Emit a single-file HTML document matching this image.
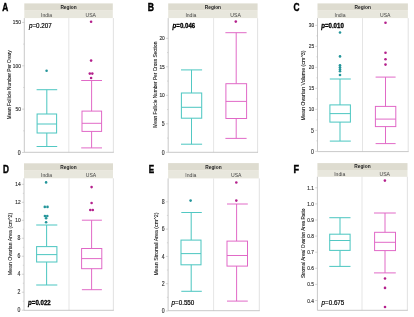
<!DOCTYPE html>
<html><head><meta charset="utf-8"><title>Box plots</title>
<style>
html,body{margin:0;padding:0;background:#fff;}
body{width:414px;height:317px;overflow:hidden;}
svg{display:block;will-change:transform;}
text{font-family:"Liberation Sans",sans-serif;}
.L{font-weight:bold;fill:#000;stroke:#000;stroke-width:0.42px;}
.R{font-size:4.8px;font-weight:bold;fill:#222;text-anchor:middle;}
.G{font-size:5.1px;fill:#444;text-anchor:middle;}
.T{font-size:5.6px;fill:#333333;stroke:#333333;stroke-width:0.15px;}
.T1{font-size:6.3px;fill:#333333;stroke:#333333;stroke-width:0.15px;}
.Y{fill:#1a1a1a;stroke:#1a1a1a;stroke-width:0.1px;text-anchor:middle;}
.P{font-size:7.1px;fill:#000;stroke:#000;stroke-width:0.2px;}
.PB{font-size:6.8px;fill:#000;font-weight:bold;stroke:#000;stroke-width:0.3px;}
</style></head>
<body>
<svg width="414" height="317" viewBox="0 0 414 317">
<rect width="414" height="317" fill="#fff"/>
<text transform="translate(2.3,10.9) scale(0.81,1)" class="L" font-size="10.3">A</text>
<rect x="24.3" y="3.4" width="88.50" height="7.20" fill="#dedcd0"/>
<rect x="24.3" y="10.6" width="88.50" height="7.50" fill="#e8e7dd"/>
<text x="68.55" y="9.00" class="R">Region</text>
<text x="46.55" y="17.10" class="G">India</text>
<text x="90.80" y="17.10" class="G">USA</text>
<line x1="68.8" y1="18.1" x2="68.8" y2="152.3" stroke="#dedede" stroke-width="0.8"/>
<line x1="113.40" y1="18.1" x2="113.40" y2="152.3" stroke="#dedede" stroke-width="0.9"/>
<line x1="24.3" y1="18.1" x2="24.3" y2="152.3" stroke="#bababa" stroke-width="0.8"/>
<line x1="24.3" y1="152.3" x2="113.80" y2="152.3" stroke="#bababa" stroke-width="0.8"/>
<line x1="22.10" y1="152.50" x2="24.3" y2="152.50" stroke="#bababa" stroke-width="0.6"/>
<text transform="translate(20.70,154.70) scale(0.82,1)" class="T1" text-anchor="end">0</text>
<line x1="22.10" y1="109.15" x2="24.3" y2="109.15" stroke="#bababa" stroke-width="0.6"/>
<text transform="translate(20.90,111.15) scale(0.86,1)" class="T" text-anchor="end">50</text>
<line x1="22.10" y1="65.80" x2="24.3" y2="65.80" stroke="#bababa" stroke-width="0.6"/>
<text transform="translate(20.90,67.80) scale(0.86,1)" class="T" text-anchor="end">100</text>
<line x1="22.10" y1="22.45" x2="24.3" y2="22.45" stroke="#bababa" stroke-width="0.6"/>
<text transform="translate(20.90,24.45) scale(0.86,1)" class="T" text-anchor="end">150</text>
<line x1="23.10" y1="130.82" x2="24.3" y2="130.82" stroke="#bababa" stroke-width="0.5"/>
<line x1="23.10" y1="87.47" x2="24.3" y2="87.47" stroke="#bababa" stroke-width="0.5"/>
<line x1="23.10" y1="44.12" x2="24.3" y2="44.12" stroke="#bababa" stroke-width="0.5"/>
<text transform="translate(10.55,84.75) rotate(-90)" class="Y" font-size="4.75" textLength="69" lengthAdjust="spacingAndGlyphs">Mean Follicle Number Per Ovary</text>
<text transform="translate(28.9,27.9) scale(0.885,1)" class="P"><tspan font-style="italic">p</tspan>=0.207</text>
<g stroke="#52c8c3" stroke-width="1.05"><line x1="46.8" y1="89.7" x2="46.8" y2="114"/><line x1="46.8" y1="133" x2="46.8" y2="146.5"/><line x1="36.6" y1="89.7" x2="57.2" y2="89.7"/><line x1="36.6" y1="146.5" x2="57.2" y2="146.5"/><rect x="37.1" y="114" width="19.50" height="19.00" fill="none"/><line x1="37.1" y1="124" x2="56.6" y2="124"/></g>
<circle cx="46.6" cy="70.8" r="1.3" fill="#23959a"/>
<g stroke="#e066c6" stroke-width="0.98"><line x1="91.6" y1="80.5" x2="91.6" y2="111.1"/><line x1="91.6" y1="131.4" x2="91.6" y2="147.9"/><line x1="81.2" y1="80.5" x2="102.0" y2="80.5"/><line x1="81.2" y1="147.9" x2="102.0" y2="147.9"/><rect x="82.0" y="111.1" width="19.60" height="20.30" fill="none"/><line x1="82.0" y1="123.3" x2="101.6" y2="123.3"/></g>
<circle cx="91.1" cy="21.7" r="1.3" fill="#b4208c"/>
<circle cx="91.1" cy="60.6" r="1.3" fill="#b4208c"/>
<circle cx="89.8" cy="73.6" r="1.3" fill="#b4208c"/>
<circle cx="92.3" cy="73.6" r="1.3" fill="#b4208c"/>
<circle cx="91.1" cy="78.0" r="1.3" fill="#b4208c"/>
<text transform="translate(147.7,10.9) scale(0.84,1)" class="L" font-size="10.3">B</text>
<rect x="168.2" y="3.4" width="89.40" height="7.20" fill="#dedcd0"/>
<rect x="168.2" y="10.6" width="89.40" height="7.50" fill="#e8e7dd"/>
<text x="212.90" y="9.00" class="R">Region</text>
<text x="190.90" y="17.10" class="G">India</text>
<text x="235.60" y="17.10" class="G">USA</text>
<line x1="213.6" y1="18.1" x2="213.6" y2="152.3" stroke="#dedede" stroke-width="0.8"/>
<line x1="257.60" y1="18.1" x2="257.60" y2="152.3" stroke="#dedede" stroke-width="0.9"/>
<line x1="168.2" y1="18.1" x2="168.2" y2="152.3" stroke="#bababa" stroke-width="0.8"/>
<line x1="168.2" y1="152.3" x2="258.00" y2="152.3" stroke="#bababa" stroke-width="0.8"/>
<line x1="166.00" y1="152.30" x2="168.2" y2="152.30" stroke="#bababa" stroke-width="0.6"/>
<text transform="translate(164.60,154.50) scale(0.82,1)" class="T1" text-anchor="end">0</text>
<line x1="166.00" y1="123.80" x2="168.2" y2="123.80" stroke="#bababa" stroke-width="0.6"/>
<text transform="translate(164.60,126.00) scale(0.82,1)" class="T1" text-anchor="end">5</text>
<line x1="166.00" y1="95.30" x2="168.2" y2="95.30" stroke="#bababa" stroke-width="0.6"/>
<text transform="translate(164.80,97.30) scale(0.86,1)" class="T" text-anchor="end">10</text>
<line x1="166.00" y1="66.80" x2="168.2" y2="66.80" stroke="#bababa" stroke-width="0.6"/>
<text transform="translate(164.80,68.80) scale(0.86,1)" class="T" text-anchor="end">15</text>
<line x1="166.00" y1="38.30" x2="168.2" y2="38.30" stroke="#bababa" stroke-width="0.6"/>
<text transform="translate(164.80,40.30) scale(0.86,1)" class="T" text-anchor="end">20</text>
<line x1="167.00" y1="138.05" x2="168.2" y2="138.05" stroke="#bababa" stroke-width="0.5"/>
<line x1="167.00" y1="109.55" x2="168.2" y2="109.55" stroke="#bababa" stroke-width="0.5"/>
<line x1="167.00" y1="81.05" x2="168.2" y2="81.05" stroke="#bababa" stroke-width="0.5"/>
<line x1="167.00" y1="52.55" x2="168.2" y2="52.55" stroke="#bababa" stroke-width="0.5"/>
<text transform="translate(157.10,84.70) rotate(-90)" class="Y" font-size="4.75" textLength="86" lengthAdjust="spacingAndGlyphs">Mean Follicle Number Per Cross Section</text>
<text transform="translate(172.6,28.1) scale(0.9,1)" class="PB"><tspan font-style="italic">p</tspan>=0.046</text>
<g stroke="#52c8c3" stroke-width="1.05"><line x1="191.5" y1="69.9" x2="191.5" y2="93.0"/><line x1="191.5" y1="118.2" x2="191.5" y2="144.2"/><line x1="181.0" y1="69.9" x2="202.1" y2="69.9"/><line x1="181.0" y1="144.2" x2="202.1" y2="144.2"/><rect x="181.4" y="93.0" width="20.30" height="25.20" fill="none"/><line x1="181.4" y1="107.3" x2="201.7" y2="107.3"/></g>
<g stroke="#e066c6" stroke-width="0.98"><line x1="236.2" y1="32.7" x2="236.2" y2="83.7"/><line x1="236.2" y1="118.5" x2="236.2" y2="138.4"/><line x1="225.4" y1="32.7" x2="246.6" y2="32.7"/><line x1="225.4" y1="138.4" x2="246.6" y2="138.4"/><rect x="225.9" y="83.7" width="20.70" height="34.80" fill="none"/><line x1="225.9" y1="101.4" x2="246.6" y2="101.4"/></g>
<circle cx="235.8" cy="21.6" r="1.3" fill="#b4208c"/>
<text transform="translate(293.5,10.6) scale(0.8,1)" class="L" font-size="10.4">C</text>
<rect x="317.5" y="3.4" width="90.40" height="7.20" fill="#dedcd0"/>
<rect x="317.5" y="10.6" width="90.40" height="7.50" fill="#e8e7dd"/>
<text x="362.70" y="9.00" class="R">Region</text>
<text x="340.00" y="17.10" class="G">India</text>
<text x="385.20" y="17.10" class="G">USA</text>
<line x1="362.5" y1="18.1" x2="362.5" y2="151.6" stroke="#dedede" stroke-width="0.8"/>
<line x1="408.20" y1="18.1" x2="408.20" y2="151.6" stroke="#dedede" stroke-width="0.9"/>
<line x1="317.5" y1="18.1" x2="317.5" y2="151.6" stroke="#bababa" stroke-width="0.8"/>
<line x1="317.5" y1="151.6" x2="408.60" y2="151.6" stroke="#bababa" stroke-width="0.8"/>
<line x1="315.30" y1="151.35" x2="317.5" y2="151.35" stroke="#bababa" stroke-width="0.6"/>
<text transform="translate(313.90,153.55) scale(0.82,1)" class="T1" text-anchor="end">0</text>
<line x1="315.30" y1="130.35" x2="317.5" y2="130.35" stroke="#bababa" stroke-width="0.6"/>
<text transform="translate(313.90,132.55) scale(0.82,1)" class="T1" text-anchor="end">5</text>
<line x1="315.30" y1="109.35" x2="317.5" y2="109.35" stroke="#bababa" stroke-width="0.6"/>
<text transform="translate(314.10,111.35) scale(0.86,1)" class="T" text-anchor="end">10</text>
<line x1="315.30" y1="88.35" x2="317.5" y2="88.35" stroke="#bababa" stroke-width="0.6"/>
<text transform="translate(314.10,90.35) scale(0.86,1)" class="T" text-anchor="end">15</text>
<line x1="315.30" y1="67.35" x2="317.5" y2="67.35" stroke="#bababa" stroke-width="0.6"/>
<text transform="translate(314.10,69.35) scale(0.86,1)" class="T" text-anchor="end">20</text>
<line x1="315.30" y1="46.35" x2="317.5" y2="46.35" stroke="#bababa" stroke-width="0.6"/>
<text transform="translate(314.10,48.35) scale(0.86,1)" class="T" text-anchor="end">25</text>
<line x1="315.30" y1="25.35" x2="317.5" y2="25.35" stroke="#bababa" stroke-width="0.6"/>
<text transform="translate(314.10,27.35) scale(0.86,1)" class="T" text-anchor="end">30</text>
<line x1="316.30" y1="140.85" x2="317.5" y2="140.85" stroke="#bababa" stroke-width="0.5"/>
<line x1="316.30" y1="119.85" x2="317.5" y2="119.85" stroke="#bababa" stroke-width="0.5"/>
<line x1="316.30" y1="98.85" x2="317.5" y2="98.85" stroke="#bababa" stroke-width="0.5"/>
<line x1="316.30" y1="77.85" x2="317.5" y2="77.85" stroke="#bababa" stroke-width="0.5"/>
<line x1="316.30" y1="56.85" x2="317.5" y2="56.85" stroke="#bababa" stroke-width="0.5"/>
<line x1="316.30" y1="35.85" x2="317.5" y2="35.85" stroke="#bababa" stroke-width="0.5"/>
<text transform="translate(304.80,85.40) rotate(-90)" class="Y" font-size="4.9" textLength="70" lengthAdjust="spacingAndGlyphs">Mean Ovarian Volume (cm^3)</text>
<text transform="translate(321.2,28.1) scale(0.9,1)" class="PB"><tspan font-style="italic">p</tspan>=0.010</text>
<g stroke="#52c8c3" stroke-width="1.05"><line x1="340.0" y1="79.0" x2="340.0" y2="104.9"/><line x1="340.0" y1="122.1" x2="340.0" y2="141.1"/><line x1="329.8" y1="79.0" x2="350.8" y2="79.0"/><line x1="329.8" y1="141.1" x2="350.8" y2="141.1"/><rect x="329.9" y="104.9" width="20.50" height="17.20" fill="none"/><line x1="329.9" y1="113.6" x2="350.4" y2="113.6"/></g>
<circle cx="340" cy="32.5" r="1.3" fill="#23959a"/>
<circle cx="340" cy="56.4" r="1.3" fill="#23959a"/>
<circle cx="340" cy="65.2" r="1.3" fill="#23959a"/>
<circle cx="340" cy="67.3" r="1.3" fill="#23959a"/>
<circle cx="340" cy="69.4" r="1.3" fill="#23959a"/>
<circle cx="340" cy="71.3" r="1.3" fill="#23959a"/>
<circle cx="340" cy="75.0" r="1.3" fill="#23959a"/>
<g stroke="#e066c6" stroke-width="0.98"><line x1="385.5" y1="77.1" x2="385.5" y2="106.4"/><line x1="385.5" y1="126.6" x2="385.5" y2="143.6"/><line x1="375.6" y1="77.1" x2="395.6" y2="77.1"/><line x1="375.6" y1="143.6" x2="395.6" y2="143.6"/><rect x="375.4" y="106.4" width="20.40" height="20.20" fill="none"/><line x1="375.4" y1="119.1" x2="395.8" y2="119.1"/></g>
<circle cx="385.5" cy="22.7" r="1.3" fill="#b4208c"/>
<circle cx="385.5" cy="52.7" r="1.3" fill="#b4208c"/>
<circle cx="385.5" cy="59.3" r="1.3" fill="#b4208c"/>
<circle cx="385.5" cy="64.6" r="1.3" fill="#b4208c"/>
<text transform="translate(3.1,172.8) scale(0.79,1)" class="L" font-size="10.4">D</text>
<rect x="24.0" y="163.3" width="89.00" height="7.30" fill="#dedcd0"/>
<rect x="24.0" y="170.6" width="89.00" height="7.70" fill="#e8e7dd"/>
<text x="68.50" y="169.00" class="R">Region</text>
<text x="46.50" y="177.30" class="G">India</text>
<text x="91.00" y="177.30" class="G">USA</text>
<line x1="69.0" y1="178.3" x2="69.0" y2="310.3" stroke="#dedede" stroke-width="0.8"/>
<line x1="113.40" y1="178.3" x2="113.40" y2="310.3" stroke="#dedede" stroke-width="0.9"/>
<line x1="24.0" y1="178.3" x2="24.0" y2="310.3" stroke="#bababa" stroke-width="0.8"/>
<line x1="24.0" y1="310.3" x2="113.80" y2="310.3" stroke="#bababa" stroke-width="0.8"/>
<line x1="21.80" y1="310.20" x2="24.0" y2="310.20" stroke="#bababa" stroke-width="0.6"/>
<text transform="translate(20.40,312.40) scale(0.82,1)" class="T1" text-anchor="end">0</text>
<line x1="21.80" y1="292.22" x2="24.0" y2="292.22" stroke="#bababa" stroke-width="0.6"/>
<text transform="translate(20.40,294.42) scale(0.82,1)" class="T1" text-anchor="end">2</text>
<line x1="21.80" y1="274.24" x2="24.0" y2="274.24" stroke="#bababa" stroke-width="0.6"/>
<text transform="translate(20.40,276.44) scale(0.82,1)" class="T1" text-anchor="end">4</text>
<line x1="21.80" y1="256.26" x2="24.0" y2="256.26" stroke="#bababa" stroke-width="0.6"/>
<text transform="translate(20.40,258.46) scale(0.82,1)" class="T1" text-anchor="end">6</text>
<line x1="21.80" y1="238.28" x2="24.0" y2="238.28" stroke="#bababa" stroke-width="0.6"/>
<text transform="translate(20.40,240.48) scale(0.82,1)" class="T1" text-anchor="end">8</text>
<line x1="21.80" y1="220.30" x2="24.0" y2="220.30" stroke="#bababa" stroke-width="0.6"/>
<text transform="translate(20.60,222.30) scale(0.86,1)" class="T" text-anchor="end">10</text>
<line x1="21.80" y1="202.32" x2="24.0" y2="202.32" stroke="#bababa" stroke-width="0.6"/>
<text transform="translate(20.60,204.32) scale(0.86,1)" class="T" text-anchor="end">12</text>
<line x1="21.80" y1="184.34" x2="24.0" y2="184.34" stroke="#bababa" stroke-width="0.6"/>
<text transform="translate(20.60,186.34) scale(0.86,1)" class="T" text-anchor="end">14</text>
<line x1="22.80" y1="301.21" x2="24.0" y2="301.21" stroke="#bababa" stroke-width="0.5"/>
<line x1="22.80" y1="283.23" x2="24.0" y2="283.23" stroke="#bababa" stroke-width="0.5"/>
<line x1="22.80" y1="265.25" x2="24.0" y2="265.25" stroke="#bababa" stroke-width="0.5"/>
<line x1="22.80" y1="247.27" x2="24.0" y2="247.27" stroke="#bababa" stroke-width="0.5"/>
<line x1="22.80" y1="229.29" x2="24.0" y2="229.29" stroke="#bababa" stroke-width="0.5"/>
<line x1="22.80" y1="211.31" x2="24.0" y2="211.31" stroke="#bababa" stroke-width="0.5"/>
<line x1="22.80" y1="193.33" x2="24.0" y2="193.33" stroke="#bababa" stroke-width="0.5"/>
<text transform="translate(11.85,244.00) rotate(-90)" class="Y" font-size="5.1" textLength="62.5" lengthAdjust="spacingAndGlyphs">Mean Ovarian Area (cm^2)</text>
<text transform="translate(28.1,305.1) scale(0.9,1)" class="PB"><tspan font-style="italic">p</tspan>=0.022</text>
<g stroke="#52c8c3" stroke-width="1.05"><line x1="46.6" y1="225.0" x2="46.6" y2="246.6"/><line x1="46.6" y1="262.0" x2="46.6" y2="285.0"/><line x1="36.2" y1="225.0" x2="57.3" y2="225.0"/><line x1="36.2" y1="285.0" x2="57.3" y2="285.0"/><rect x="36.6" y="246.6" width="20.30" height="15.40" fill="none"/><line x1="36.6" y1="254.6" x2="56.9" y2="254.6"/></g>
<circle cx="46.1" cy="182.4" r="1.3" fill="#23959a"/>
<circle cx="44.8" cy="206.9" r="1.3" fill="#23959a"/>
<circle cx="47.5" cy="206.9" r="1.3" fill="#23959a"/>
<circle cx="44.9" cy="216.0" r="1.3" fill="#23959a"/>
<circle cx="47.3" cy="216.0" r="1.3" fill="#23959a"/>
<circle cx="46.1" cy="218.2" r="1.3" fill="#23959a"/>
<circle cx="46.1" cy="222.3" r="1.3" fill="#23959a"/>
<g stroke="#e066c6" stroke-width="0.98"><line x1="91.6" y1="220.2" x2="91.6" y2="248.5"/><line x1="91.6" y1="268.7" x2="91.6" y2="289.7"/><line x1="81.9" y1="220.2" x2="101.9" y2="220.2"/><line x1="81.9" y1="289.7" x2="101.9" y2="289.7"/><rect x="81.6" y="248.5" width="20.20" height="20.20" fill="none"/><line x1="81.6" y1="258.6" x2="101.8" y2="258.6"/></g>
<circle cx="91.6" cy="187.1" r="1.3" fill="#b4208c"/>
<circle cx="91.6" cy="203.0" r="1.3" fill="#b4208c"/>
<circle cx="90.3" cy="210.0" r="1.3" fill="#b4208c"/>
<circle cx="92.8" cy="210.0" r="1.3" fill="#b4208c"/>
<text transform="translate(148.7,172.8) scale(0.78,1)" class="L" font-size="10.4">E</text>
<rect x="168.1" y="163.1" width="90.70" height="7.50" fill="#dedcd0"/>
<rect x="168.1" y="170.6" width="90.70" height="7.80" fill="#e8e7dd"/>
<text x="213.45" y="169.00" class="R">Region</text>
<text x="190.85" y="177.40" class="G">India</text>
<text x="236.20" y="177.40" class="G">USA</text>
<line x1="213.6" y1="178.4" x2="213.6" y2="310.7" stroke="#dedede" stroke-width="0.8"/>
<line x1="259.30" y1="178.4" x2="259.30" y2="310.7" stroke="#dedede" stroke-width="0.9"/>
<line x1="168.1" y1="178.4" x2="168.1" y2="310.7" stroke="#bababa" stroke-width="0.8"/>
<line x1="168.1" y1="310.7" x2="259.70" y2="310.7" stroke="#bababa" stroke-width="0.8"/>
<line x1="165.90" y1="311.00" x2="168.1" y2="311.00" stroke="#bababa" stroke-width="0.6"/>
<text transform="translate(164.50,313.20) scale(0.82,1)" class="T1" text-anchor="end">0</text>
<line x1="165.90" y1="283.70" x2="168.1" y2="283.70" stroke="#bababa" stroke-width="0.6"/>
<text transform="translate(164.50,285.90) scale(0.82,1)" class="T1" text-anchor="end">2</text>
<line x1="165.90" y1="256.40" x2="168.1" y2="256.40" stroke="#bababa" stroke-width="0.6"/>
<text transform="translate(164.50,258.60) scale(0.82,1)" class="T1" text-anchor="end">4</text>
<line x1="165.90" y1="229.10" x2="168.1" y2="229.10" stroke="#bababa" stroke-width="0.6"/>
<text transform="translate(164.50,231.30) scale(0.82,1)" class="T1" text-anchor="end">6</text>
<line x1="165.90" y1="201.80" x2="168.1" y2="201.80" stroke="#bababa" stroke-width="0.6"/>
<text transform="translate(164.50,204.00) scale(0.82,1)" class="T1" text-anchor="end">8</text>
<line x1="166.90" y1="297.35" x2="168.1" y2="297.35" stroke="#bababa" stroke-width="0.5"/>
<line x1="166.90" y1="270.05" x2="168.1" y2="270.05" stroke="#bababa" stroke-width="0.5"/>
<line x1="166.90" y1="242.75" x2="168.1" y2="242.75" stroke="#bababa" stroke-width="0.5"/>
<line x1="166.90" y1="215.45" x2="168.1" y2="215.45" stroke="#bababa" stroke-width="0.5"/>
<text transform="translate(157.90,244.10) rotate(-90)" class="Y" font-size="5.1" textLength="63" lengthAdjust="spacingAndGlyphs">Mean Stromal Area (cm^2)</text>
<text transform="translate(171.5,305.3) scale(0.885,1)" class="P"><tspan font-style="italic">p</tspan>=0.550</text>
<g stroke="#52c8c3" stroke-width="1.05"><line x1="191.2" y1="212.5" x2="191.2" y2="240.1"/><line x1="191.2" y1="264.8" x2="191.2" y2="291.3"/><line x1="181.3" y1="212.5" x2="201.8" y2="212.5"/><line x1="181.3" y1="291.3" x2="201.8" y2="291.3"/><rect x="181.0" y="240.1" width="20.00" height="24.70" fill="none"/><line x1="181.0" y1="253.6" x2="201.0" y2="253.6"/></g>
<circle cx="190.6" cy="200.6" r="1.3" fill="#23959a"/>
<g stroke="#e066c6" stroke-width="0.98"><line x1="236.6" y1="204.0" x2="236.6" y2="241.1"/><line x1="236.6" y1="266.1" x2="236.6" y2="301.1"/><line x1="227.0" y1="204.0" x2="247.8" y2="204.0"/><line x1="227.0" y1="301.1" x2="247.8" y2="301.1"/><rect x="227.0" y="241.1" width="20.50" height="25.00" fill="none"/><line x1="227.0" y1="255.5" x2="247.5" y2="255.5"/></g>
<circle cx="236.3" cy="182.5" r="1.3" fill="#b4208c"/>
<circle cx="236.3" cy="200.6" r="1.3" fill="#b4208c"/>
<text transform="translate(293.6,173.1) scale(0.86,1)" class="L" font-size="10.6">F</text>
<rect x="317.4" y="163.1" width="90.10" height="6.90" fill="#dedcd0"/>
<rect x="317.4" y="170.0" width="90.10" height="6.80" fill="#e8e7dd"/>
<text x="362.45" y="168.40" class="R">Region</text>
<text x="339.70" y="175.80" class="G">India</text>
<text x="384.75" y="175.80" class="G">USA</text>
<line x1="362.0" y1="176.8" x2="362.0" y2="310.3" stroke="#dedede" stroke-width="0.8"/>
<line x1="407.40" y1="176.8" x2="407.40" y2="310.3" stroke="#dedede" stroke-width="0.9"/>
<line x1="317.4" y1="176.8" x2="317.4" y2="310.3" stroke="#bababa" stroke-width="0.8"/>
<line x1="317.4" y1="310.3" x2="407.80" y2="310.3" stroke="#bababa" stroke-width="0.8"/>
<line x1="315.20" y1="300.50" x2="317.4" y2="300.50" stroke="#bababa" stroke-width="0.6"/>
<text transform="translate(314.00,302.50) scale(0.86,1)" class="T" text-anchor="end">0.4</text>
<line x1="315.20" y1="284.40" x2="317.4" y2="284.40" stroke="#bababa" stroke-width="0.6"/>
<text transform="translate(314.00,286.40) scale(0.86,1)" class="T" text-anchor="end">0.5</text>
<line x1="315.20" y1="268.30" x2="317.4" y2="268.30" stroke="#bababa" stroke-width="0.6"/>
<text transform="translate(314.00,270.30) scale(0.86,1)" class="T" text-anchor="end">0.6</text>
<line x1="315.20" y1="252.20" x2="317.4" y2="252.20" stroke="#bababa" stroke-width="0.6"/>
<text transform="translate(314.00,254.20) scale(0.86,1)" class="T" text-anchor="end">0.7</text>
<line x1="315.20" y1="236.10" x2="317.4" y2="236.10" stroke="#bababa" stroke-width="0.6"/>
<text transform="translate(314.00,238.10) scale(0.86,1)" class="T" text-anchor="end">0.8</text>
<line x1="315.20" y1="220.00" x2="317.4" y2="220.00" stroke="#bababa" stroke-width="0.6"/>
<text transform="translate(314.00,222.00) scale(0.86,1)" class="T" text-anchor="end">0.9</text>
<line x1="315.20" y1="203.90" x2="317.4" y2="203.90" stroke="#bababa" stroke-width="0.6"/>
<text transform="translate(314.00,205.90) scale(0.86,1)" class="T" text-anchor="end">1.0</text>
<line x1="315.20" y1="187.80" x2="317.4" y2="187.80" stroke="#bababa" stroke-width="0.6"/>
<text transform="translate(314.00,189.80) scale(0.86,1)" class="T" text-anchor="end">1.1</text>
<text transform="translate(304.80,243.30) rotate(-90)" class="Y" font-size="4.7" textLength="69.5" lengthAdjust="spacingAndGlyphs">Stromal Area/ Ovarian Area Ratio</text>
<text transform="translate(321.5,305.3) scale(0.885,1)" class="P"><tspan font-style="italic">p</tspan>=0.675</text>
<g stroke="#52c8c3" stroke-width="1.05"><line x1="340.0" y1="217.7" x2="340.0" y2="234.2"/><line x1="340.0" y1="250.4" x2="340.0" y2="266.4"/><line x1="329.3" y1="217.7" x2="350.5" y2="217.7"/><line x1="329.3" y1="266.4" x2="350.5" y2="266.4"/><rect x="329.7" y="234.2" width="20.40" height="16.20" fill="none"/><line x1="329.7" y1="240.5" x2="350.1" y2="240.5"/></g>
<g stroke="#e066c6" stroke-width="0.98"><line x1="385.0" y1="213.0" x2="385.0" y2="232.3"/><line x1="385.0" y1="250.6" x2="385.0" y2="272.9"/><line x1="374.0" y1="213.0" x2="395.8" y2="213.0"/><line x1="374.0" y1="272.9" x2="395.8" y2="272.9"/><rect x="374.6" y="232.3" width="20.90" height="18.30" fill="none"/><line x1="374.6" y1="242.3" x2="395.5" y2="242.3"/></g>
<circle cx="384.9" cy="180.6" r="1.3" fill="#b4208c"/>
<circle cx="385.0" cy="278.5" r="1.3" fill="#b4208c"/>
<circle cx="385.0" cy="287.9" r="1.3" fill="#b4208c"/>
<circle cx="385.0" cy="307.0" r="1.3" fill="#b4208c"/>
</svg>
</body></html>
